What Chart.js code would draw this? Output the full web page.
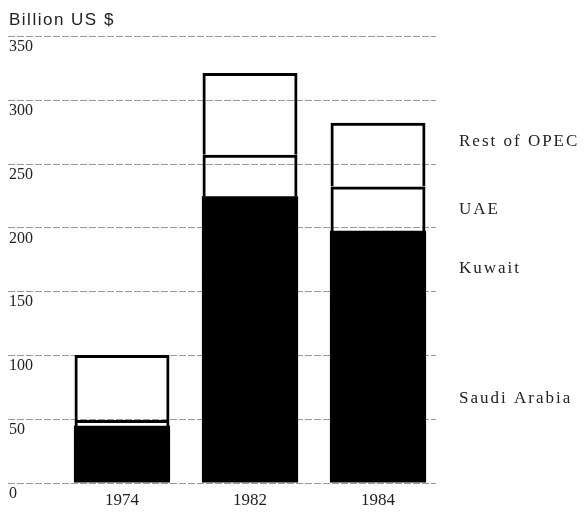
<!DOCTYPE html>
<html>
<head>
<meta charset="utf-8">
<script src="https://cdn.jsdelivr.net/npm/chart.js@4.4.0/dist/chart.umd.min.js"></script>
<style>
  body { margin: 0; background: #fff; }
  #wrap { width: 585px; height: 512px; position: relative; }
</style>
</head>
<body>
<div id="wrap"><canvas id="barChart"></canvas></div>
<script>
// Years on the x axis
const years = ['1974', '1982', '1984'];

// Values in billion US $, bottom to top
const saudiArabia = [30, 160, 135];
const kuwait = [14, 64, 62];
const uae = [5, 33, 35];
const restOfOpec = [51, 64, 50];

// Y axis ticks
const yTicks = [0, 50, 100, 150, 200, 250, 300, 350];

// Labels on the right side, with the value they sit at
const sideLabels = ['Rest of OPEC', 'UAE', 'Kuwait', 'Saudi Arabia'];
const sideLabelValues = [267, 214, 168, 66];

const unitLabel = 'Billion US $';

// Draws the grid lines, y labels, unit and side labels
const decorPlugin = {
    id: 'decor',
    beforeDatasetsDraw(chart) {
        const ctx = chart.ctx;
        const y = chart.scales.y;
        const area = chart.chartArea;
        ctx.save();
        ctx.strokeStyle = '#999';
        ctx.lineWidth = 1;
        ctx.setLineDash([7, 2]);
        for (const v of yTicks) {
            const py = Math.round(y.getPixelForValue(v)) + 0.5;
            ctx.beginPath();
            ctx.moveTo(8, py);
            ctx.lineTo(area.right - 6, py);
            ctx.stroke();
        }
        ctx.restore();
    },
    afterDraw(chart) {
        const ctx = chart.ctx;
        const y = chart.scales.y;
        ctx.save();
        ctx.fillStyle = '#222';
        ctx.textBaseline = 'middle';
        ctx.textAlign = 'left';
        ctx.font = '16px "Liberation Serif", serif';
        for (const v of yTicks) {
            ctx.fillText(String(v), 9, y.getPixelForValue(v) + 11);
        }
        ctx.font = '17px "Liberation Sans", sans-serif';
        ctx.letterSpacing = '1.5px';
        ctx.fillText(unitLabel, 9, 20);
        ctx.font = '17px "Liberation Serif", serif';
        ctx.letterSpacing = '2px';
        for (let i = 0; i < sideLabels.length; i++) {
            ctx.fillText(sideLabels[i], 459, y.getPixelForValue(sideLabelValues[i]));
        }
        ctx.restore();
    }
};

function makeSet(label, data, filled) {
    return {
        label: label,
        data: data,
        backgroundColor: filled ? '#000' : 'rgba(255,255,255,0)',
        borderColor: '#000',
        borderWidth: filled ? 0 : 3,
        inflateAmount: filled ? 0.6 : 0,
        categoryPercentage: 1,
        barPercentage: 0.742
    };
}

let ctx = document.getElementById('barChart').getContext('2d');
let chart = new Chart(ctx, {
    type: 'bar',
    data: {
        labels: years,
        datasets: [
            makeSet('Saudi Arabia', saudiArabia, true),
            makeSet('Kuwait', kuwait, true),
            makeSet('UAE', uae, false),
            makeSet('Rest of OPEC', restOfOpec, false)
        ]
    },
    options: {
        responsive: true,
        maintainAspectRatio: false,
        animation: false,
        layout: { padding: { left: 58, right: 143, top: 36, bottom: -7 } },
        plugins: { legend: { display: false }, tooltip: { enabled: false } },
        scales: {
            x: {
                stacked: true,
                grid: { display: false, drawTicks: false },
                border: { display: false },
                ticks: { color: '#222', padding: 8, font: { family: '"Liberation Serif", serif', size: 17 } }
            },
            y: {
                stacked: true,
                display: false,
                min: 0,
                max: 350,
                ticks: { stepSize: 50 }
            }
        }
    },
    plugins: [decorPlugin]
});
</script>
</body>
</html>
